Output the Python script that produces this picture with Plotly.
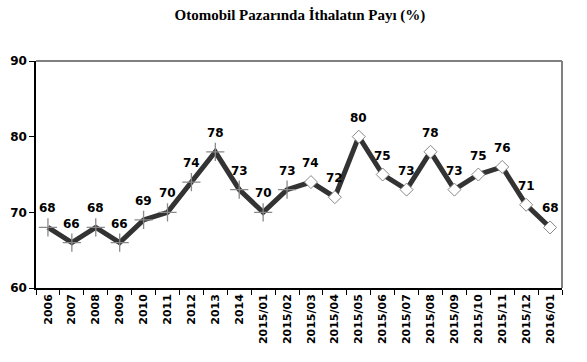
import plotly.graph_objects as go

categories = ["2006", "2007", "2008", "2009", "2010", "2011", "2012", "2013", "2014",
              "2015/01", "2015/02", "2015/03", "2015/04", "2015/05", "2015/06", "2015/07",
              "2015/08", "2015/09", "2015/10", "2015/11", "2015/12", "2016/01"]
values = [68, 66, 68, 66, 69, 70, 74, 78, 73, 70, 73, 74, 72, 80, 75, 73, 78, 73, 75, 76, 71, 68]
n_cross = 11  # first points drawn with cross markers
y_ticks = [60, 70, 80, 90]

fig = go.Figure()
fig.add_trace(go.Scatter(
    x=categories, y=values, mode="lines",
    line=dict(color="#333333", width=5), hoverinfo="skip", showlegend=False))
fig.add_trace(go.Scatter(
    x=categories[:n_cross], y=values[:n_cross], mode="markers",
    marker=dict(symbol="cross-thin", size=13, line=dict(color="#8a8a8a", width=1.3)),
    showlegend=False))
fig.add_trace(go.Scatter(
    x=categories[n_cross:], y=values[n_cross:], mode="markers",
    marker=dict(symbol="diamond", size=10, color="white", line=dict(color="#888888", width=1)),
    showlegend=False))

annotations = [
    dict(x=i, y=v, text=str(v), showarrow=False, yshift=19, xref="x", yref="y",
         font=dict(family="DejaVu Sans", size=12, color="black", weight="bold"))
    for i, v in enumerate(values)
]

fig.update_layout(
    width=587, height=362,
    margin=dict(l=36, r=25, t=61, b=74),
    paper_bgcolor="white", plot_bgcolor="white",
    title=dict(text="<b>Otomobil Pazarında İthalatın Payı (%)</b>",
               x=0.511, xanchor="center", y=0.958, yanchor="middle",
               font=dict(family="Liberation Serif", size=15, color="black")),
    xaxis=dict(type="category", range=[-0.5, len(categories) - 0.5], automargin=False,
               showline=True, linecolor="black", linewidth=1.5,
               ticks="outside", ticklen=5, tickcolor="black", tickson="boundaries",
               tickangle=-90, showgrid=False, zeroline=False,
               tickfont=dict(family="DejaVu Sans", size=11, color="black", weight="bold")),
    yaxis=dict(range=[60, 90], tickvals=y_ticks, showline=True, linecolor="black",
               automargin=False, linewidth=1.5, ticks="outside", ticklen=5, tickcolor="black",
               showgrid=False, zeroline=False,
               tickfont=dict(family="DejaVu Sans", size=12, color="black", weight="bold")),
    annotations=annotations,
    shapes=[
        dict(type="line", xref="paper", yref="paper", x0=0, x1=1, y0=1, y1=1,
             line=dict(color="#808080", width=2)),
        dict(type="line", xref="paper", yref="paper", x0=1, x1=1, y0=0, y1=1,
             line=dict(color="#808080", width=2)),
    ],
)

fig.write_html("out.html", config={"displayModeBar": False},
               post_script="document.body.style.margin='0';")
